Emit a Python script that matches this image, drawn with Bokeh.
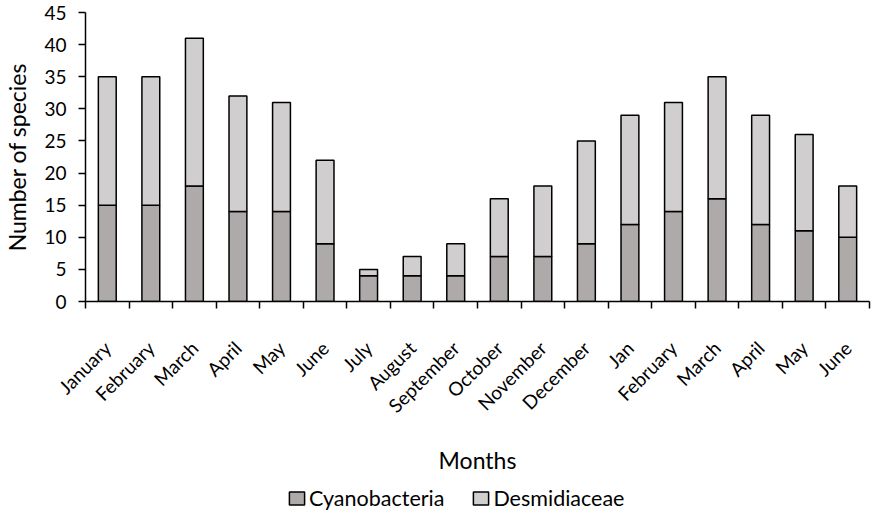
from math import pi
from bokeh.plotting import figure
from bokeh.layouts import column
from bokeh.models import ColumnDataSource, FixedTicker, Legend, LegendItem, Range1d
from bokeh.embed import file_html
from bokeh.resources import INLINE

months = ["January", "February", "March", "April", "May", "June", "July", "August",
          "September", "October", "November", "December", "Jan", "February", "March",
          "April", "May", "June"]
cyanobacteria = [15, 15, 18, 14, 14, 9, 4, 4, 4, 7, 7, 9, 12, 14, 16, 12, 11, 10]
desmidiaceae = [20, 20, 23, 18, 17, 13, 1, 3, 5, 9, 11, 16, 17, 17, 19, 17, 15, 8]
y_ticks = [0, 5, 10, 15, 20, 25, 30, 35, 40, 45]
series_names = ["Cyanobacteria", "Desmidiaceae"]
series_colors = ["#aeaaaa", "#d0cece"]

FONT = "Lato"
centers = [i + 0.5 for i in range(len(months))]
source = ColumnDataSource(dict(x=centers, cyano=cyanobacteria, desmid=desmidiaceae))

p = figure(width=872, height=480, output_backend="svg", toolbar_location=None,
           x_range=Range1d(0, len(months)), y_range=Range1d(0, 45),
           min_border_left=85, min_border_right=3, min_border_top=12,
           min_border_bottom=179)
p.outline_line_color = None
p.grid.visible = False

r = p.vbar_stack(["cyano", "desmid"], x="x", width=0.41, source=source,
                 fill_color=series_colors, line_color="black", line_width=1.5)

# Y axis
ya = p.yaxis[0]
ya.ticker = FixedTicker(ticks=y_ticks)
ya.axis_label = "Number of species"
ya.axis_label_text_font = FONT
ya.axis_label_text_font_size = "23px"
ya.axis_label_text_font_style = "normal"
ya.axis_label_text_color = "black"
ya.axis_label_standoff = 10
ya.major_label_text_font = FONT
ya.major_label_text_font_size = "19px"
ya.major_label_text_color = "black"
ya.major_tick_out = 7
ya.major_tick_in = 0
ya.minor_tick_line_color = None
ya.major_label_standoff = 12
ya.axis_line_color = "black"
ya.axis_line_width = 1.5
ya.major_tick_line_width = 1.5

# X axis
xa = p.xaxis[0]
xa.ticker = FixedTicker(ticks=centers, minor_ticks=list(range(len(months) + 1)))
xa.major_label_overrides = {c: m for c, m in zip(centers, months)}
xa.major_label_orientation = pi / 4
xa.major_label_text_font = FONT
xa.major_label_text_font_size = "19px"
xa.major_label_text_color = "black"
xa.major_tick_line_color = None
xa.major_tick_out = 7
xa.major_label_standoff = 36
xa.minor_tick_out = 7
xa.minor_tick_in = 0
xa.minor_tick_line_color = "black"
xa.minor_tick_line_width = 1.5
xa.axis_line_color = "black"
xa.axis_line_width = 1.5
xa.axis_label = "Months"
xa.axis_label_text_font = FONT
xa.axis_label_text_font_size = "23px"
xa.axis_label_text_font_style = "normal"
xa.axis_label_text_color = "black"
xa.axis_label_standoff = 18

# Legend strip below the chart (proxy renderers lie outside the visible range)
lf = figure(width=872, height=31, output_backend="svg", toolbar_location=None,
            x_range=Range1d(0, 1), y_range=Range1d(0, 1),
            x_axis_location=None, y_axis_location=None,
            min_border_left=0, min_border_right=0, min_border_top=0, min_border_bottom=0)
lf.outline_line_color = None
lf.grid.visible = False
items = []
for name, color in zip(series_names, series_colors):
    rr = lf.quad(left=[-6], right=[-5], bottom=[-6], top=[-5], fill_color=color,
                 line_color="black", line_width=1.5)
    items.append(LegendItem(label=name, renderers=[rr]))
legend = Legend(items=items, orientation="horizontal", location=(202, 0),
                label_text_font=FONT, label_text_font_size="21.5px",
                label_text_color="black", background_fill_alpha=0,
                glyph_width=19, glyph_height=16, label_standoff=3, spacing=27,
                border_line_color=None, padding=0, margin=0)
lf.add_layout(legend, "center")

layout = column(p, lf, spacing=0)
open("out.html", "w").write(file_html(layout, INLINE))
